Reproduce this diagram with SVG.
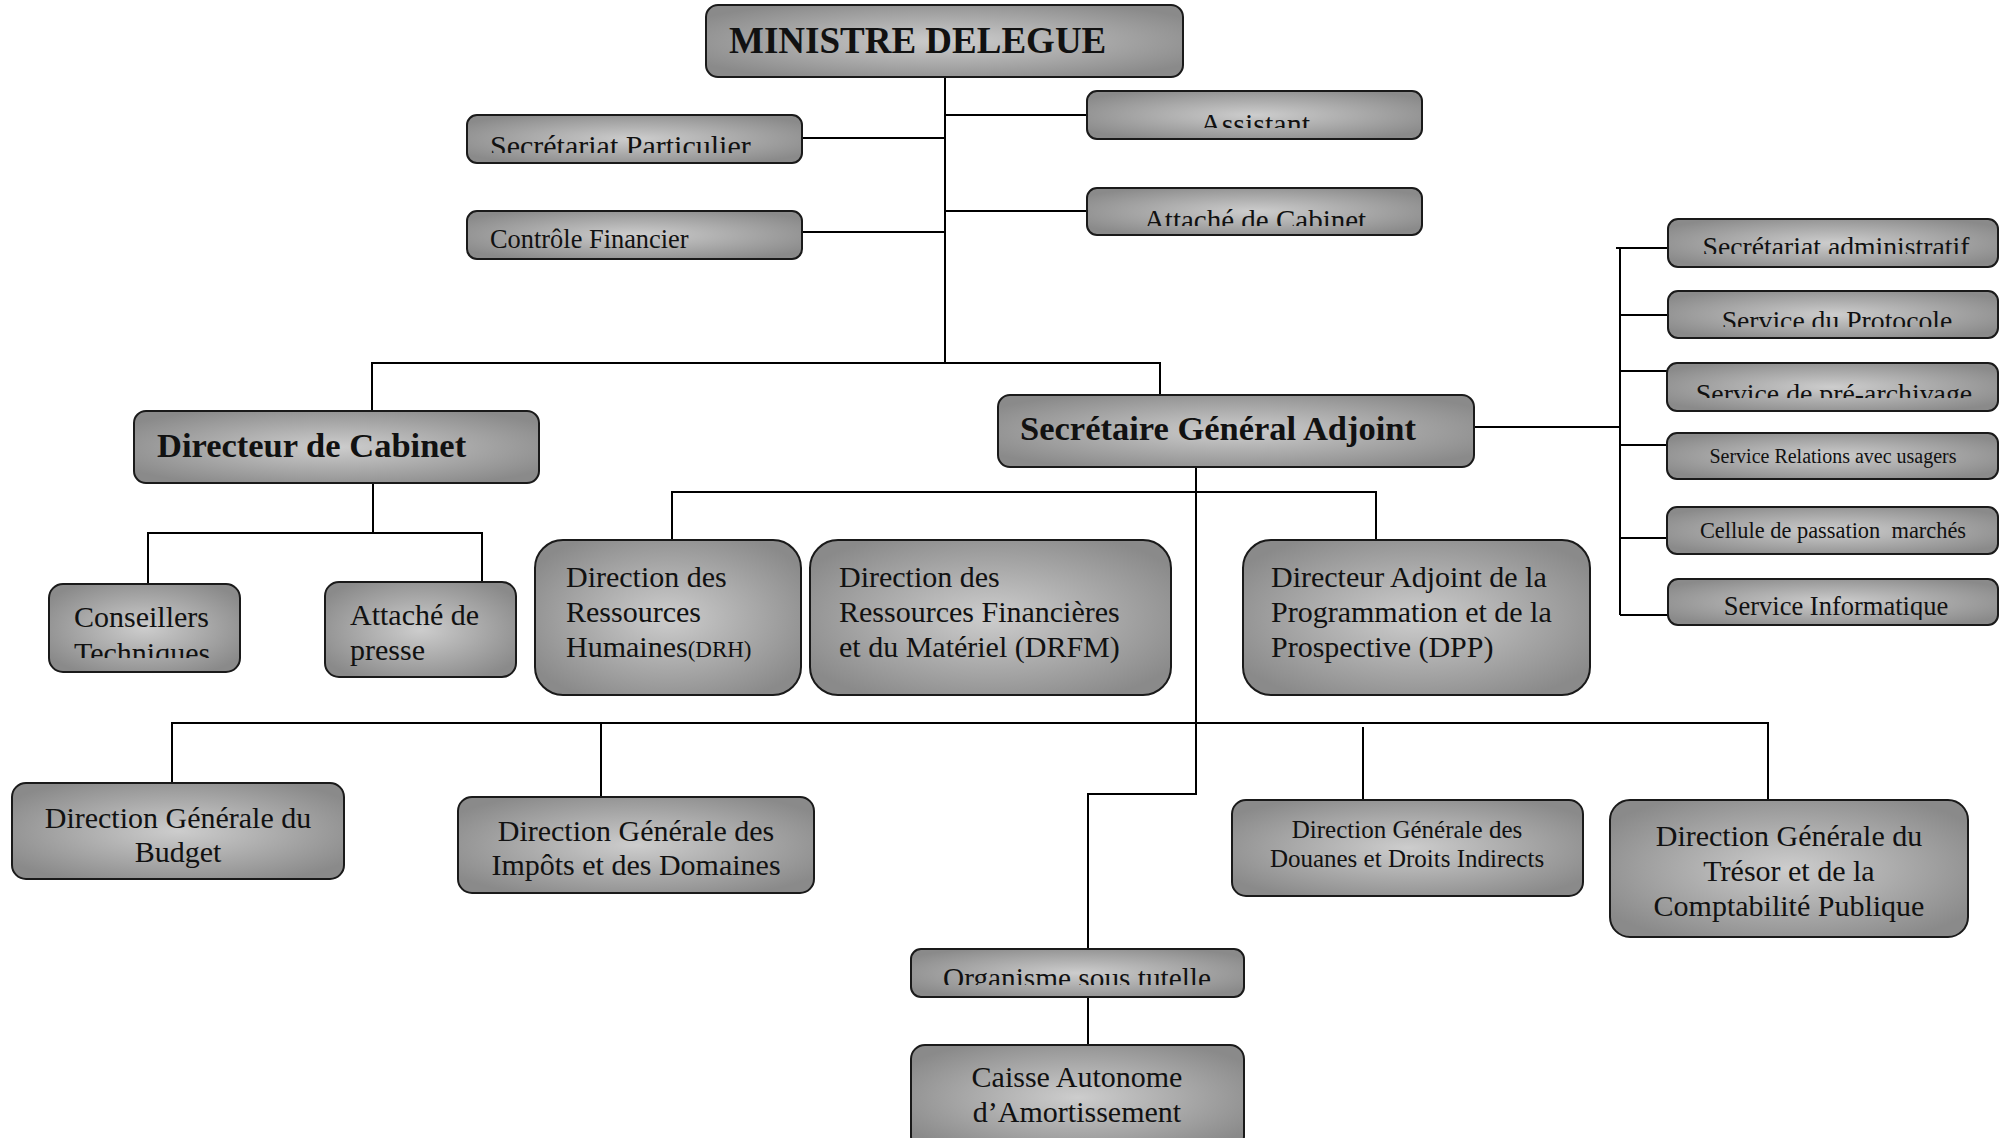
<svg xmlns="http://www.w3.org/2000/svg" width="1999" height="1138" viewBox="0 0 1999 1138">
<defs>
<radialGradient id="g" cx="0.5" cy="0.5" r="0.6">
<stop offset="0" stop-color="#cdcdcd"/>
<stop offset="1" stop-color="#8a8a8a"/>
</radialGradient>
<clipPath id="c1"><rect x="460" y="110" width="350" height="43"/></clipPath>
<clipPath id="c2"><rect x="1080" y="85" width="350" height="43"/></clipPath>
<clipPath id="c3"><rect x="1080" y="185" width="350" height="41"/></clipPath>
<clipPath id="c4"><rect x="1660" y="215" width="340" height="39"/></clipPath>
<clipPath id="c5"><rect x="1660" y="287" width="340" height="40"/></clipPath>
<clipPath id="c6"><rect x="1660" y="360" width="340" height="38"/></clipPath>
<clipPath id="c7"><rect x="1660" y="575" width="340" height="45"/></clipPath>
<clipPath id="c8"><rect x="40" y="580" width="210" height="78"/></clipPath>
<clipPath id="c9"><rect x="900" y="945" width="350" height="40"/></clipPath>
</defs>
<style>
.b{fill:url(#g);stroke:#1a1a1a;stroke-width:2}
.t{font-family:"Liberation Serif","Times New Roman",serif;fill:#111}
.bd{font-weight:bold}
.m{text-anchor:middle}
.c{fill:none;stroke:#000;stroke-width:2}
</style>
<g id="connectors" class="c">
<path d="M945,77V363M802,138H945M945,115H1087M802,232H945M945,211H1087"/>
<path d="M372,411V363H1160V395"/>
<path d="M373,483V533M148,584V533H482V582"/>
<path d="M1474,427H1620M1620,248V615M1616,248H1668M1620,315H1668M1620,371H1667M1620,445H1667M1620,538H1667M1620,615H1668"/>
<path d="M1196,467V794H1088V949M1088,997V1045"/>
<path d="M672,540V492H1376V540"/>
<path d="M172,783V723H1768V800M601,723V797M1363,727V800"/>
</g>
<g id="ministre"><rect class="b" x="706" y="5" width="477" height="72" rx="12"/><text class="t bd" x="729" y="53" font-size="37">MINISTRE DELEGUE</text></g>
<g id="secretariat-particulier"><rect class="b" x="467" y="115" width="335" height="48" rx="10"/><text class="t" x="490" y="156" font-size="30" clip-path="url(#c1)">Secrétariat Particulier</text></g>
<g id="controle-financier"><rect class="b" x="467" y="211" width="335" height="48" rx="10"/><text class="t" x="490" y="248" font-size="26.4">Contrôle Financier</text></g>
<g id="assistant"><rect class="b" x="1087" y="91" width="335" height="48" rx="10"/><text class="t m" x="1255" y="134" font-size="30" clip-path="url(#c2)">Assistant</text></g>
<g id="attache-cabinet"><rect class="b" x="1087" y="188" width="335" height="47" rx="10"/><text class="t m" x="1255" y="230" font-size="29" clip-path="url(#c3)">Attaché de Cabinet</text></g>
<g id="directeur-cabinet"><rect class="b" x="134" y="411" width="405" height="72" rx="12"/><text class="t bd" x="157" y="457" font-size="34.5">Directeur de Cabinet</text></g>
<g id="sga"><rect class="b" x="998" y="395" width="476" height="72" rx="12"/><text class="t bd" x="1020" y="440" font-size="34.5">Secrétaire Général Adjoint</text></g>
<g id="conseillers"><rect class="b" x="49" y="584" width="191" height="88" rx="14"/><text class="t" font-size="30" clip-path="url(#c8)"><tspan x="74" y="627">Conseillers</tspan><tspan x="74" y="663">Techniques</tspan></text></g>
<g id="attache-presse"><rect class="b" x="325" y="582" width="191" height="95" rx="14"/><text class="t" font-size="30"><tspan x="350" y="625">Attaché de</tspan><tspan x="350" y="660">presse</tspan></text></g>
<g id="drh"><rect class="b" x="535" y="540" width="266" height="155" rx="28"/><text class="t" font-size="30"><tspan x="566" y="587">Direction des</tspan><tspan x="566" y="622">Ressources</tspan><tspan x="566" y="657">Humaines<tspan font-size="23">(DRH)</tspan></tspan></text></g>
<g id="drfm"><rect class="b" x="810" y="540" width="361" height="155" rx="28"/><text class="t" font-size="30"><tspan x="839" y="587">Direction des</tspan><tspan x="839" y="622">Ressources Financières</tspan><tspan x="839" y="657">et du Matériel (DRFM)</tspan></text></g>
<g id="dpp"><rect class="b" x="1243" y="540" width="347" height="155" rx="28"/><text class="t" font-size="30"><tspan x="1271" y="587">Directeur Adjoint de la</tspan><tspan x="1271" y="622">Programmation et de la</tspan><tspan x="1271" y="657">Prospective (DPP)</tspan></text></g>
<g id="sec-admin"><rect class="b" x="1668" y="219" width="330" height="48" rx="10"/><text class="t m" x="1836" y="256" font-size="27.7" clip-path="url(#c4)">Secrétariat administratif</text></g>
<g id="protocole"><rect class="b" x="1668" y="291" width="330" height="47" rx="10"/><text class="t m" x="1837" y="330" font-size="27.7" clip-path="url(#c5)">Service du Protocole</text></g>
<g id="pre-archivage"><rect class="b" x="1667" y="363" width="331" height="48" rx="10"/><text class="t m" x="1834" y="403" font-size="27.8" clip-path="url(#c6)">Service de pré-archivage</text></g>
<g id="relations-usagers"><rect class="b" x="1667" y="433" width="331" height="46" rx="10"/><text class="t m" x="1833" y="463" font-size="20">Service Relations avec usagers</text></g>
<g id="passation-marches"><rect class="b" x="1667" y="507" width="331" height="47" rx="10"/><text class="t m" x="1833" y="538" font-size="22.4" xml:space="preserve">Cellule de passation  marchés</text></g>
<g id="informatique"><rect class="b" x="1668" y="579" width="330" height="46" rx="10"/><text class="t m" x="1836" y="615" font-size="26.5" clip-path="url(#c7)">Service Informatique</text></g>
<g id="dgb"><rect class="b" x="12" y="783" width="332" height="96" rx="14"/><text class="t m" font-size="30"><tspan x="178" y="828">Direction Générale du</tspan><tspan x="178" y="862">Budget</tspan></text></g>
<g id="dgi"><rect class="b" x="458" y="797" width="356" height="96" rx="14"/><text class="t m" font-size="30"><tspan x="636" y="841">Direction Générale des</tspan><tspan x="636" y="875">Impôts et des Domaines</tspan></text></g>
<g id="dgd"><rect class="b" x="1232" y="800" width="351" height="96" rx="14"/><text class="t m" font-size="25"><tspan x="1407" y="838">Direction Générale des</tspan><tspan x="1407" y="867">Douanes et Droits Indirects</tspan></text></g>
<g id="dgt"><rect class="b" x="1610" y="800" width="358" height="137" rx="20"/><text class="t m" font-size="30"><tspan x="1789" y="846">Direction Générale du</tspan><tspan x="1789" y="881">Trésor et de la</tspan><tspan x="1789" y="916">Comptabilité Publique</tspan></text></g>
<g id="organisme"><rect class="b" x="911" y="949" width="333" height="48" rx="10"/><text class="t m" x="1077" y="988" font-size="29.3" clip-path="url(#c9)">Organisme sous tutelle</text></g>
<g id="caisse"><rect class="b" x="911" y="1045" width="333" height="105" rx="14"/><text class="t m" font-size="30"><tspan x="1077" y="1087">Caisse Autonome</tspan><tspan x="1077" y="1122">d’Amortissement</tspan></text></g>
</svg>
